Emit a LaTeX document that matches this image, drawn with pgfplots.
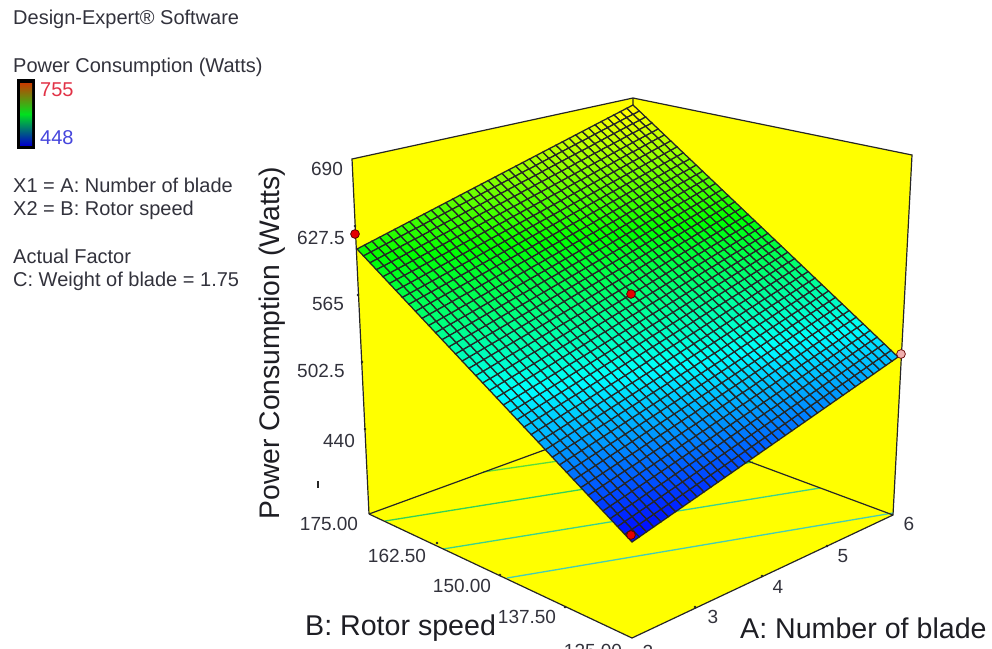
\documentclass[border=0pt]{standalone}
\usepackage{pgfplots}
\usepackage{pgfplotstable}
\usepackage{fontspec}
\setmainfont{Liberation Sans}
\pgfplotsset{compat=1.18}
\usepgfplotslibrary{patchplots}
\pgfplotstableread{
A B P
2 125 448
2.8 125 459.4
3.6 125 470.8
4.4 125 482.2
5.2 125 493.6
6 125 505
2 135 479.8
2.8 135 492
3.6 135 504.1
4.4 135 516.3
5.2 135 528.4
6 135 540.6
2 145 511.6
2.8 145 524.5
3.6 145 537.4
4.4 145 550.4
5.2 145 563.3
6 145 576.2
2 155 543.4
2.8 155 557.1
3.6 155 570.8
4.4 155 584.4
5.2 155 598.1
6 155 611.8
2 165 575.2
2.8 165 589.6
3.6 165 604.1
4.4 165 618.5
5.2 165 633
6 165 647.4
2 175 607
2.8 175 622.2
3.6 175 637.4
4.4 175 652.6
5.2 175 667.8
6 175 683
}\surfdata
\definecolor{txt}{RGB}{50,50,60}
\definecolor{wall}{RGB}{255,255,0}
\newcommand{\fs}[1]{\fontsize{#1}{#1}\selectfont}
% screen projection of the response surface (perspective of the 3D view)
\pgfmathdeclarefunction{uu}{1}{\pgfmathparse{(#1-2)/4}}
\pgfmathdeclarefunction{vv}{1}{\pgfmathparse{(#1-125)/50}}
\begin{document}
\begin{tikzpicture}
\useasboundingbox (0,0) rectangle (992pt,648pt);
\begin{axis}[
  at={(0,0)}, anchor=south west,
  width=992pt, height=648pt, scale only axis,
  xmin=0, xmax=992, ymin=0, ymax=648, y dir=reverse,
  hide axis, clip=true,
  colormap={de}{rgb255(0)=(0,0,255) rgb255(1)=(0,255,255) rgb255(2)=(0,255,0) rgb255(3)=(255,255,0) rgb255(4)=(255,0,0)},
  point meta min=448, point meta max=755,
]
% walls and floor
\addplot[fill=wall, draw=none] coordinates {(352,159) (633,98) (632,418) (369,514) (352,159)};
\addplot[fill=wall, draw=none] coordinates {(633,98) (912,155) (893,515) (632,418) (633,98)};
\addplot[fill=wall, draw=none] coordinates {(369,514) (632,418) (893,515) (632,638) (369,514)};
% contours on the floor
\addplot[line width=1.3pt, color={rgb,255:red,70;green,205;blue,180}] coordinates {(507,578) (893,513)};
\addplot[line width=1.3pt, color={rgb,255:red,60;green,210;blue,140}] coordinates {(443,549) (820,488)};
\addplot[line width=1.3pt, color={rgb,255:red,50;green,210;blue,90}] coordinates {(385,521) (753,462)};
\addplot[line width=1.3pt, color={rgb,255:red,90;green,220;blue,60}] coordinates {(483,472) (620,452)};
% box edges
\addplot[line width=1.2pt, black!85] coordinates {(369,514) (352,159) (633,98) (912,155) (893,515) (632,638) (369,514)};
\addplot[line width=1.2pt, black!85] coordinates {(369,514) (632,418) (893,515)};
\addplot[line width=1.2pt, black!85] coordinates {(633,98) (632,418)};
% ticks
\addplot[only marks, mark=*, mark size=1pt, black!85] coordinates {
 (437,543) (500,575) (565,607) (695,607) (762,576) (827,546)
 (355,226) (358,295) (362,362) (365,429)};
\addplot[line width=1.2pt, black!85] coordinates {(318,481) (318,488)};
% surface
\addplot[surf, shader=faceted, faceted color=black!85, line width=1.25pt,
  mesh/rows=6, mesh/cols=6, patch refines=3, point meta=explicit]
 table[
  x expr={(372.35*uu(\thisrow{A})-247.34*vv(\thisrow{B})+632)/(0.11843*uu(\thisrow{A})+0.07748*vv(\thisrow{B})+1)},
  y expr={(-142.72*uu(\thisrow{A})-273.71*vv(\thisrow{B})+542)/(0.11843*uu(\thisrow{A})+0.07748*vv(\thisrow{B})+1)},
  meta=P] {\surfdata};
% design points
\addplot[only marks, mark=*, mark size=4.4pt, mark options={fill=red!90!black, draw=black!70!red, line width=.7pt}] coordinates {(631,294) (355,234) (631,535)};
\addplot[only marks, mark=*, mark size=4.4pt, mark options={fill={rgb,255:red,240;green,175;blue,175}, draw=black!60!red, line width=.7pt}] coordinates {(901,354)};
% legend bar
\fill[black] (axis cs:17,79) rectangle (axis cs:35,149);
\shade[top color={rgb,255:red,200;green,60;blue,0}, bottom color={rgb,255:red,0;green,0;blue,200}, middle color={rgb,255:red,0;green,225;blue,30}] (axis cs:20,83) rectangle (axis cs:32,145);
% texts
\begin{scope}[every node/.style={anchor=west, inner sep=0pt, text=txt, font=\fs{20}}]
\node at (axis cs:13,19) {Design-Expert\textregistered{} Software};
\node at (axis cs:13,67) {Power Consumption (Watts)};
\node[text={rgb,255:red,225;green,50;blue,70}] at (axis cs:40,90) {755};
\node[text={rgb,255:red,70;green,70;blue,220}] at (axis cs:40,138) {448};
\node at (axis cs:13,185) {X1 = A: Number of blade};
\node at (axis cs:13,210) {X2 = B: Rotor speed};
\node at (axis cs:13,256) {Actual Factor};
\node at (axis cs:13,281) {C: Weight of blade = 1.75};
\end{scope}
\begin{scope}[every node/.style={inner sep=0pt, text=txt, font=\fs{19}}]
\node at (axis cs:327,169) {690};
\node at (axis cs:321,238) {627.5};
\node at (axis cs:328,304) {565};
\node at (axis cs:321,371) {502.5};
\node at (axis cs:339,441) {440};
\node at (axis cs:329,524) {175.00};
\node at (axis cs:397,556) {162.50};
\node at (axis cs:462,586) {150.00};
\node at (axis cs:527,617) {137.50};
\node at (axis cs:593,651) {125.00};
\node at (axis cs:648,652) {2};
\node at (axis cs:713,617) {3};
\node at (axis cs:778,587) {4};
\node at (axis cs:843,556) {5};
\node at (axis cs:909,524) {6};
\end{scope}
\node[rotate=90, inner sep=0pt, text=txt!60!black, font=\fs{28.3}] at (axis cs:272,343) {Power Consumption (Watts)};
\node[anchor=west, inner sep=0pt, text=txt!60!black, font=\fs{28.6}] at (axis cs:305,628) {B: Rotor speed};
\node[anchor=west, inner sep=0pt, text=txt!60!black, font=\fs{28.6}] at (axis cs:740,628) {A: Number of blade};
\end{axis}
\end{tikzpicture}
\end{document}
